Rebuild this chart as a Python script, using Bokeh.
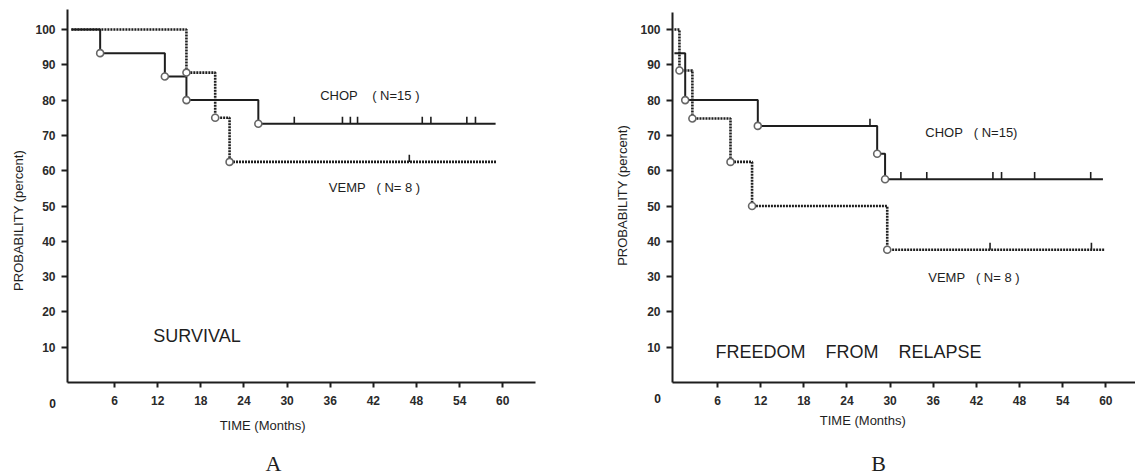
import numpy as np
from math import pi
from bokeh.plotting import figure
from bokeh.layouts import row
from bokeh.models import Label, FixedTicker, Range1d, LinearAxis
from bokeh.embed import file_html
from bokeh.resources import INLINE

# ---------------- data ----------------
x_ticks = [6, 12, 18, 24, 30, 36, 42, 48, 54, 60]
y_ticks = [10, 20, 30, 40, 50, 60, 70, 80, 90, 100]

# Panel A - survival
a_chop_t = [0, 4, 13, 16, 26, 59]
a_chop_s = [100, 93.3, 86.7, 80.0, 73.3, 73.3]
a_chop_cens = [31, 37.7, 38.8, 39.8, 48.8, 50.0, 55.0, 56.2]

a_vemp_t = [0, 16, 20, 22, 59.2]
a_vemp_s = [100, 87.8, 75.0, 62.5, 62.5]
a_vemp_cens = [47.0]

# Panel B - freedom from relapse
b_chop_t = [0, 1.5, 11.6, 28.2, 29.3, 59.6]
b_chop_s = [93.3, 80.0, 72.7, 64.8, 57.6, 57.6]
b_chop_cens = [27.2, 31.5, 35.1, 44.3, 45.5, 50.1, 57.9]

b_vemp_t = [0, 0.7, 2.5, 7.8, 10.8, 29.6, 59.9]
b_vemp_s = [100, 88.4, 74.8, 62.5, 50.0, 37.6, 37.6]
b_vemp_cens = [43.9, 58.0]

FONT = "Liberation Sans"
INK = "#1e1e1e"
NB = "\u00a0"
H = 475


def level_at(ts, ss, c):
    i = np.searchsorted(np.array(ts), c, side="right") - 1
    return ss[int(i)]


def make_fig(width, x0, x1, y0, y1, ax_x, xb, yb):
    p = figure(width=width, height=H, output_backend="svg", toolbar_location=None,
               x_range=Range1d(x0, x1), y_range=Range1d(y0, y1),
               x_axis_location=None, y_axis_location=None,
               min_border_left=0, min_border_right=0,
               min_border_top=0, min_border_bottom=0)
    p.grid.visible = False
    p.outline_line_color = None
    p.background_fill_color = "white"
    p.border_fill_color = "white"
    xa = LinearAxis(fixed_location=0, bounds=xb, ticker=FixedTicker(ticks=x_ticks))
    ya = LinearAxis(fixed_location=ax_x, bounds=yb, ticker=FixedTicker(ticks=y_ticks))
    for ax in (xa, ya):
        ax.axis_line_width = 2
        ax.axis_line_color = INK
        ax.major_tick_line_width = 2
        ax.major_tick_line_color = INK
        ax.minor_tick_line_color = None
        ax.major_tick_in = 0
        ax.major_tick_out = 5
        ax.major_label_text_font = FONT
        ax.major_label_text_font_size = "12px"
        ax.major_label_text_font_style = "bold"
        ax.major_label_text_color = "#2a2a2a"
    xa.major_label_standoff = 9
    ya.major_label_standoff = 6
    ya.major_tick_out = 6
    p.add_layout(xa, "below")
    p.add_layout(ya, "left")
    return p


def add_curve(p, ts, ss, cens, dotted):
    kw = dict(line_color=INK, line_width=2.6 if dotted else 2.0)
    if dotted:
        kw["line_dash"] = "2 1"
    p.step(ts, ss, mode="after", **kw)
    # censoring marks
    lv = [level_at(ts, ss, c) for c in cens]
    p.segment(x0=cens, y0=lv, x1=cens, y1=[v + 2.0 for v in lv],
              line_color=INK, line_width=1.6)
    # event circles
    p.scatter(ts[1:-1], ss[1:-1], marker="circle", size=7,
              fill_color="white", line_color="#666666", line_width=1.6)


def lab(p, x, y, text, size="13px", align="left", font=FONT, angle=0.0, style="normal"):
    p.add_layout(Label(x=x, y=y, text=text, text_font=font, text_font_size=size,
                       text_align=align, text_baseline="middle", angle=angle,
                       text_color="#1e1e1e", text_font_style=style))


# ---------------- Panel A ----------------
pa = make_fig(600, -9.86, 73.59, -26.35, 108.22, -0.54, (-0.54, 64.5), (0, 105.6))
add_curve(pa, a_chop_t, a_chop_s, a_chop_cens, False)
add_curve(pa, a_vemp_t, a_vemp_s, a_vemp_cens, True)
lab(pa, 34.6, 81.3, "CHOP" + NB * 4 + "(" + NB + "N=15" + NB + ")")
lab(pa, 35.8, 55.2, "VEMP" + NB * 3 + "(" + NB + "N=" + NB + "8" + NB + ")")
lab(pa, 11.4, 13.3, "SURVIVAL", size="18px")
lab(pa, 26.6, -12.2, "TIME (Months)", align="center")
lab(pa, 28.1, -22.9, "A", size="22px", align="center", font="Liberation Serif")
lab(pa, -2.6, -6.0, "0", size="12px", align="center", style="bold")
lab(pa, -7.36, 45.9, "PROBABILITY (percent)", align="center", angle=pi / 2)

# ---------------- Panel B ----------------
pb = make_fig(535, -10.28, 64.13, -26.35, 108.22, -0.26, (-0.26, 64.13), (0, 104.7))
add_curve(pb, b_chop_t, b_chop_s, b_chop_cens, False)
add_curve(pb, b_vemp_t, b_vemp_s, b_vemp_cens, True)
lab(pb, 34.9, 70.8, "CHOP" + NB * 3 + "(" + NB + "N=15)")
lab(pb, 35.3, 29.7, "VEMP" + NB * 3 + "(" + NB + "N=" + NB + "8" + NB + ")")
lab(pb, 5.7, 8.5, "FREEDOM" + NB * 4 + "FROM" + NB * 4 + "RELAPSE", size="18px")
lab(pb, 26.2, -10.8, "TIME (Months)", align="center")
lab(pb, 28.4, -22.9, "B", size="22px", align="center", font="Liberation Serif")
lab(pb, -2.35, -4.5, "0", size="12px", align="center", style="bold")
lab(pb, -7.2, 53.0, "PROBABILITY (percent)", align="center", angle=pi / 2)

layout = row(pa, pb)
open("out.html", "w").write(file_html(layout, INLINE))
